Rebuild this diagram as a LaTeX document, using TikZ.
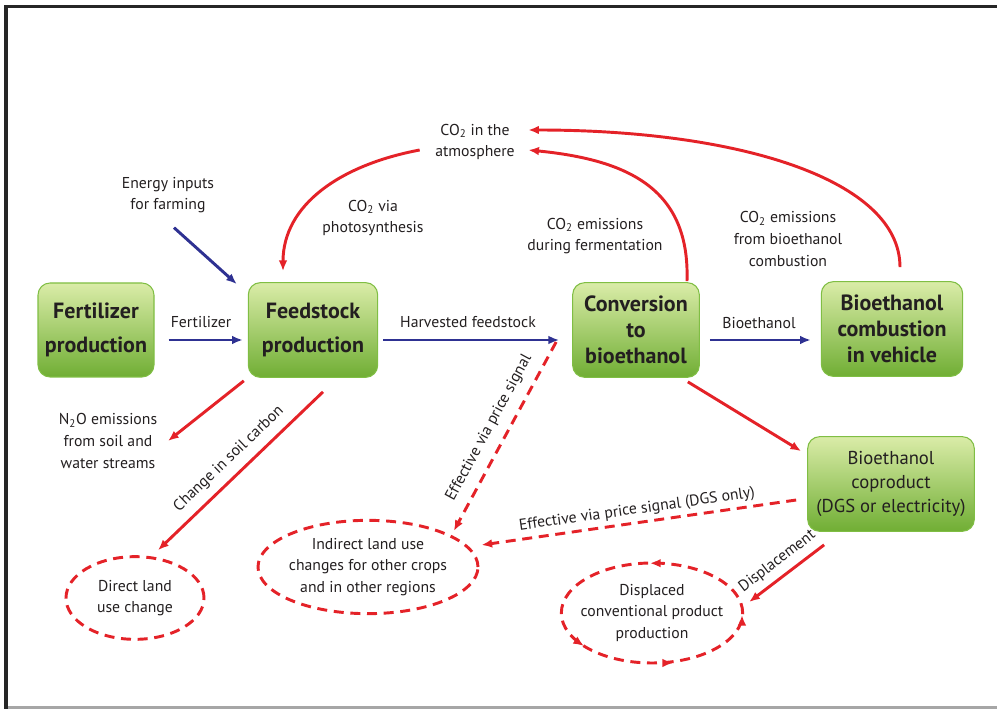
\documentclass[tikz,border=0pt]{standalone}
\usepackage{fontspec}
\setmainfont{PT Sans}
\usetikzlibrary{arrows.meta,shapes.geometric}
\definecolor{flowred}{RGB}{228,34,40}
\definecolor{flowblue}{RGB}{46,49,146}
\definecolor{boxtop}{RGB}{218,236,168}
\definecolor{boxbot}{RGB}{112,174,52}
\definecolor{boxedge}{RGB}{128,190,68}
\definecolor{ink}{RGB}{35,31,32}
\begin{document}
\begin{tikzpicture}[x=0.75pt,y=-0.75pt,
  stage/.style={rectangle, rounded corners=9pt, draw=boxedge, line width=0.8pt,
    top color=boxtop, bottom color=boxbot, align=center, text=ink, inner sep=0pt,
    font=\bfseries\fontsize{16.5}{19.5}\selectfont},
  lbl/.style={align=center, text=ink, inner sep=1pt, font=\fontsize{11.8}{16.2}\selectfont},
  tip/.style={-{Latex[length=8pt,width=6.5pt]}},
  bluearrow/.style={draw=flowblue, line width=2.2pt, tip},
  redarrow/.style={draw=flowred, line width=2.2pt, tip},
  reddash/.style={draw=flowred, line width=2.2pt, dash pattern=on 7.5pt off 5pt, tip},
  landuse/.style={ellipse, draw=flowred, line width=2.2pt, dash pattern=on 7.5pt off 5pt, inner sep=0pt},
  cycletip/.style={draw=flowred, line width=2.2pt, tip}
]
\useasboundingbox (0,0) rectangle (997,709);
% frame
\fill[black!85] (4,5) rectangle (997,8);
\fill[black!85] (4,5) rectangle (8,709);
\fill[black!35] (8,706) rectangle (997,709);

% process stages
\node[stage, minimum width=87pt, minimum height=70.5pt, font=\bfseries\fontsize{16.5}{26}\selectfont] (fert) at (96,330) {Fertilizer\\production};
\node[stage, minimum width=97pt, minimum height=71pt, font=\bfseries\fontsize{16.5}{26}\selectfont] (feed) at (313,330) {Feedstock\\production};
\node[stage, minimum width=95pt, minimum height=71pt] (conv) at (636,330) {Conversion\\to\\bioethanol};
\node[stage, minimum width=106pt, minimum height=71pt] (comb) at (892,329) {Bioethanol\\combustion\\in vehicle};
\node[stage, minimum width=125pt, minimum height=71pt, font=\fontsize{14}{18}\selectfont] (copr) at (891,484) {Bioethanol\\coproduct\\(DGS or electricity)};

% free labels
\node[lbl] (atmo) at (475,142) {CO\textsubscript{2} in the\\atmosphere};
\node[lbl] (energy) at (168,195) {Energy inputs\\for farming};
\node[lbl] (photo) at (373,218) {CO\textsubscript{2} via\\photosynthesis};
\node[lbl] (ferm) at (595,236) {CO\textsubscript{2} emissions\\during fermentation};
\node[lbl] (combl) at (788,239) {CO\textsubscript{2} emissions\\from bioethanol\\combustion};
\node[lbl] (n2o) at (108,441) {N\textsubscript{2}O emissions\\from soil and\\water streams};
\node[lbl] (lfert) at (201,322) {Fertilizer};
\node[lbl] (lharv) at (468,322) {Harvested feedstock};
\node[lbl] (lbio) at (759,323) {Bioethanol};

% land use outcomes
\node[landuse, minimum width=103.5pt, minimum height=62pt] (dir) at (135,598) {};
\node[lbl] (dirtext) at (dir) {Direct land\\use change};
\node[landuse, minimum width=165pt, minimum height=70pt] (ind) at (368,567) {};
\node[lbl] (indtext) at (ind) {Indirect land use\\changes for other crops\\and in other regions};
\node[landuse, minimum width=136pt, minimum height=75pt] (disp) at (652,613) {};
\node[lbl] (disptext) at (disp) {Displaced\\conventional product\\production};
% circulation marks on the displaced-production loop
\draw[cycletip] (657,563.2) -- (650,563.2);
\draw[cycletip] (742,622) -- (742,615);
\draw[cycletip] (666,663) -- (673,663);
\draw[cycletip] (578,642) -- (584,646);

% material flows
\draw[bluearrow] ([shift={(6,13)}]energy.south) -- ([shift={(-11,2)}]feed.north west);
\draw[bluearrow] ([shift={(14,10)}]fert.east) -- ([shift={(-5,10)}]feed.west);
\draw[bluearrow] ([shift={(5,10)}]feed.east) -- ([shift={(-13,10)}]conv.west);
\draw[bluearrow] ([shift={(10,10)}]conv.east) -- ([shift={(-10,11)}]comb.west);

% carbon exchange with the atmosphere
\draw[redarrow] ([shift={(-14,8)}]atmo.west) .. controls (340,165) and (283,205) .. ([shift={(-30,-11)}]feed.north);
\draw[redarrow] ([shift={(51,-1)}]conv.north) .. controls (690,190) and (630,160) .. ([shift={(12,8)}]atmo.east);
\draw[redarrow] ([shift={(8,-14)}]comb.north) .. controls (900,180) and (740,130) .. ([shift={(12,-12)}]atmo.east);

% emissions and land use effects
\draw[redarrow] ([shift={(-4,3)}]feed.south west) -- ([shift={(60,0)}]n2o.center);
\draw[redarrow] ([shift={(10,14)}]feed.south) -- node[lbl, above, sloped, yshift=5pt] (lsoil) {Change in soil carbon} ([shift={(23,-5)}]dir.north);
\draw[redarrow] ([shift={(-12,4)}]conv.south east) -- ([shift={(-6,15)}]copr.north west);
\draw[redarrow] ([shift={(17,13)}]copr.south west) -- node[lbl, above, sloped, yshift=4pt] (ldisp) {Displacement} ([shift={(5,-11)}]disp.east);
\draw[reddash] ([shift={(-16,12)}]conv.west) -- node[lbl, above, sloped, yshift=6pt] (lprice) {Effective via price signal} ([shift={(7,-2)}]ind.north east);
\draw[reddash] ([shift={(-11,16)}]copr.west) -- node[lbl, above, sloped, yshift=2pt] (ldgs) {Effective via price signal (DGS only)} ([shift={(2,-22)}]ind.east);
\end{tikzpicture}
\end{document}
